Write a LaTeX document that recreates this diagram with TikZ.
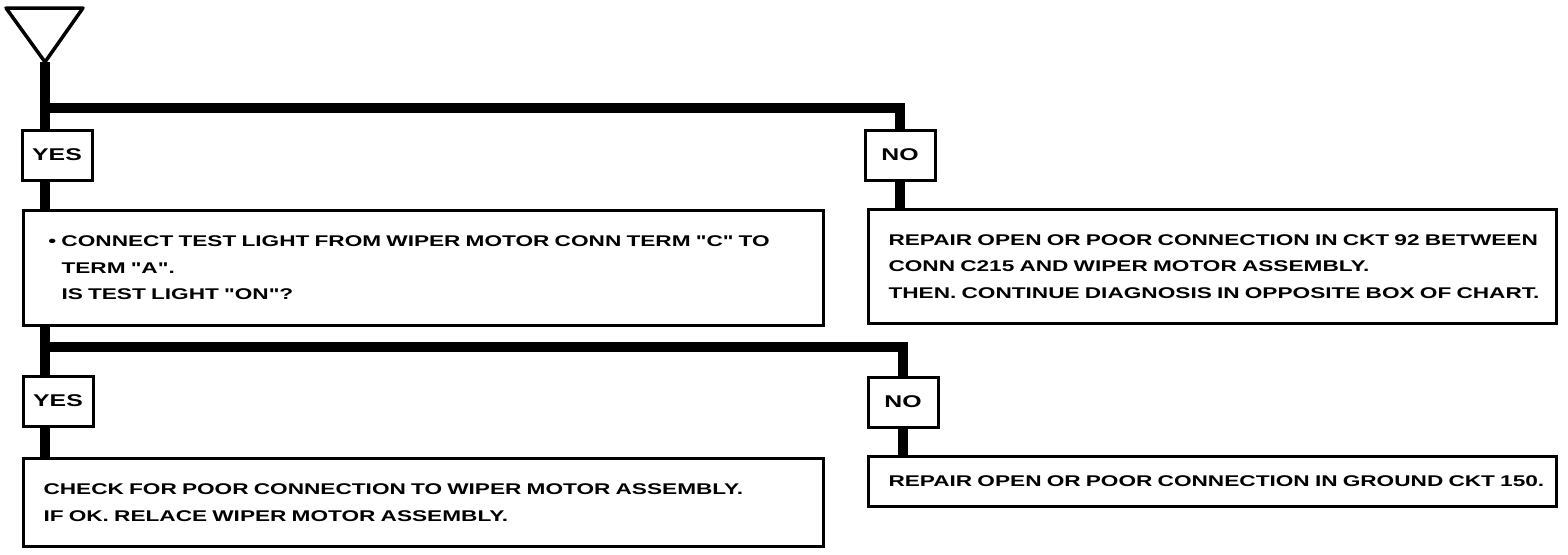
\documentclass[tikz,border=0pt]{standalone}
\usepackage{fontspec}
\newfontfamily\diagfont{Liberation Sans}[FakeStretch=1.46]
\newcommand\diagtext{\diagfont\fontsize{15.5pt}{26.5pt}\selectfont\bfseries}
\newcommand\anstext{\diagfont\fontsize{17pt}{20pt}\selectfont\bfseries}
\tikzset{
  textbox/.style={draw, line width=3pt, align=left, font=\diagtext, inner ysep=0pt, anchor=north west},
  ansbox/.style={draw, line width=3pt, minimum width=70pt, minimum height=50pt, inner sep=0pt, font=\anstext},
  conn/.style={line width=10pt, line join=miter, line cap=butt}
}
\begin{document}
\begin{tikzpicture}[x=1pt,y=-1pt]
\useasboundingbox (0,0) rectangle (1568,554);
% answer boxes
\node[ansbox] (yes1) at (57,155) {YES};
\node[ansbox] (no1) at (900,155) {NO};
\node[ansbox] (yes2) at (58,401) {YES};
\node[ansbox] (no2) at (903,402) {NO};
% text boxes
\node[textbox, inner xsep=38pt, text width=724pt, minimum height=115pt] (b1) at (22,209)
  {\mbox{\llap{\textbullet\ }CONNECT TEST LIGHT FROM WIPER MOTOR CONN TERM "C" TO}\\
   \mbox{TERM "A".}\\
   \mbox{IS TEST LIGHT "ON"?}};
\node[textbox, inner xsep=20pt, text width=648pt, minimum height=114pt] (b2) at (867,208)
  {\mbox{REPAIR OPEN OR POOR CONNECTION IN CKT 92 BETWEEN}\\
   \mbox{CONN C215 AND WIPER MOTOR ASSEMBLY.}\\
   \mbox{THEN. CONTINUE DIAGNOSIS IN OPPOSITE BOX OF CHART.}};
\node[textbox, inner xsep=20pt, text width=760pt, minimum height=88pt] (b3) at (22,457)
  {\mbox{CHECK FOR POOR CONNECTION TO WIPER MOTOR ASSEMBLY.}\\
   \mbox{IF OK. RELACE WIPER MOTOR ASSEMBLY.}};
\node[textbox, inner xsep=20pt, text width=648pt, minimum height=50pt] (b4) at (867,455)
  {\mbox{REPAIR OPEN OR POOR CONNECTION IN GROUND CKT 150.}};
% start triangle
\coordinate (apex) at (45,62);
\coordinate (tl) at (6,8);
\coordinate (tr) at (83,8);
\draw[line width=3.5pt, line join=round] (tl) -- (tr) -- (apex) -- cycle;
% connectors
\coordinate (j1) at (45,108);
\coordinate (j2) at (45,347);
\draw[conn] (apex) -- (apex |- yes1.north);
\draw[conn] (j1) -- (j1 -| no1) -- (no1.north);
\draw[conn] (apex |- yes1.south) -- (apex |- b1.north);
\draw[conn] (no1.south) -- (no1.south |- b2.north);
\draw[conn] (apex |- b1.south) -- (apex |- yes2.north);
\draw[conn] (j2) -- (j2 -| no2) -- (no2.north);
\draw[conn] (apex |- yes2.south) -- (apex |- b3.north);
\draw[conn] (no2.south) -- (no2.south |- b4.north);
\end{tikzpicture}
\end{document}
